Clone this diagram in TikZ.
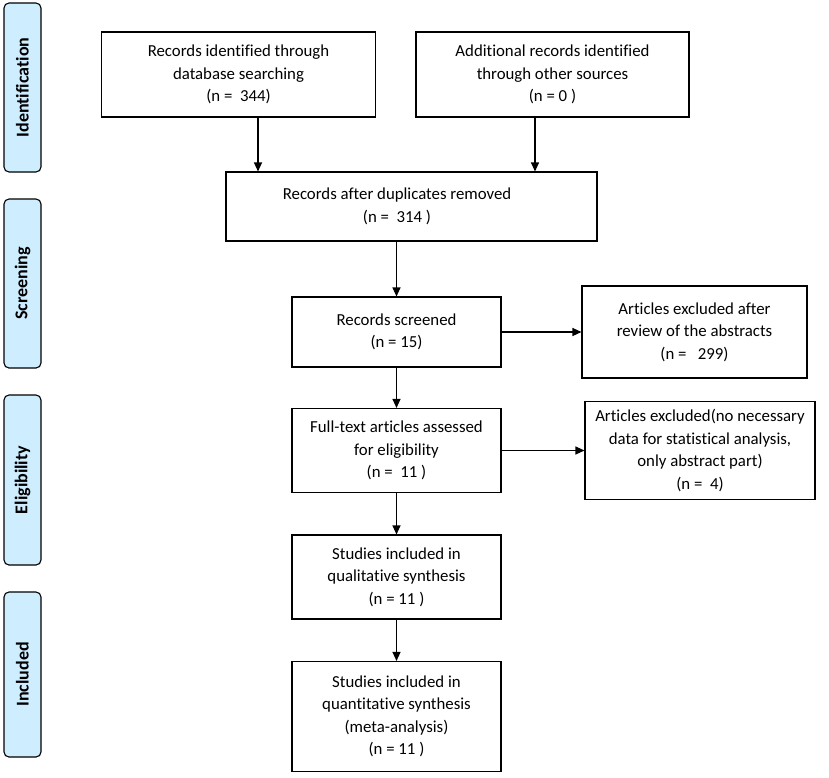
\documentclass[tikz,border=0pt]{standalone}
\usepackage{fontspec}
\setmainfont{Carlito}[RawFeature={-liga;-calt;-clig}]
\usetikzlibrary{arrows.meta}
\definecolor{phase}{RGB}{206,237,255}
\tikzset{
  box/.style={draw=black, line width=1.1pt, fill=white, align=center, inner sep=0pt,
    font=\fontsize{16.8pt}{22.5pt}\selectfont},
  phasebox/.style={draw=black, line width=1.1pt, fill=phase, rounded corners=5pt, rotate=90,
    minimum height=37pt, inner sep=0pt, font=\bfseries\fontsize{18pt}{20pt}\selectfont},
  txt/.style={align=center, inner sep=0pt, font=\fontsize{16.8pt}{22.5pt}\selectfont},
  arr/.style={line width=1.1pt, -{Triangle[length=9pt,width=8pt]}}
}
\begin{document}
\begin{tikzpicture}[x=1pt,y=-1pt]
\useasboundingbox (0,0) rectangle (829,777);
% phase labels
\node[phasebox, minimum width=169pt] (pid) at (22.5,87.5) {Identification};
\node[phasebox, minimum width=169pt] (psc) at (22.5,283.5) {Screening};
\node[phasebox, minimum width=170pt] (pel) at (22.5,480) {Eligibility};
\node[phasebox, minimum width=165pt] (pin) at (22.5,674.5) {Included};
% boxes
\node[box, minimum width=274pt, minimum height=85pt] (b1) at (238.5,74.5)
  {Records identified through\\database searching\\(n =~~344)};
\node[box, minimum width=273pt, minimum height=85pt] (b2) at (552.5,74.5)
  {Additional records identified\\through other sources\\(n = 0 )};
\node[box, minimum width=371pt, minimum height=69pt] (b3) at (411.5,206.5) {};
\node[txt] (t3) at (397,206.5) {Records after duplicates removed\\(n =~~314 )};
\node[box, minimum width=209pt, minimum height=70pt] (b4) at (396.5,332)
  {Records screened\\(n = 15)};
\node[box, minimum width=225pt, minimum height=92pt] (b5) at (694.5,332)
  {Articles excluded after\\review of the abstracts\\(n =~~~299)};
\node[box, minimum width=209pt, minimum height=84pt] (b6) at (396.5,450.5)
  {Full-text articles assessed\\for eligibility\\(n =~~11 )};
\node[box, minimum width=230pt, minimum height=98pt] (b7) at (700,450.5)
  {Articles excluded(no necessary\\data for statistical analysis,\\only abstract part)\\(n =~~4)};
\node[box, minimum width=209pt, minimum height=84pt] (b8) at (396.5,577)
  {Studies included in\\qualitative synthesis\\(n = 11 )};
\node[box, minimum width=209pt, minimum height=110pt] (b9) at (396.5,716.5)
  {Studies included in\\quantitative synthesis\\(meta-analysis)\\(n = 11 )};
% connectors
\coordinate (c1) at (258,0);
\coordinate (c2) at (535,0);
\draw[arr] (b1.south -| c1) -- (b3.north -| c1);
\draw[arr] (b2.south -| c2) -- (b3.north -| c2);
\draw[arr] (b3.south -| b4) -- (b4.north);
\draw[arr] (b4.east) -- (b5.west);
\draw[arr] (b4.south) -- (b6.north);
\draw[arr] (b6.east) -- (b7.west);
\draw[arr] (b6.south) -- (b8.north);
\draw[arr] (b8.south) -- (b9.north);
\end{tikzpicture}
\end{document}
